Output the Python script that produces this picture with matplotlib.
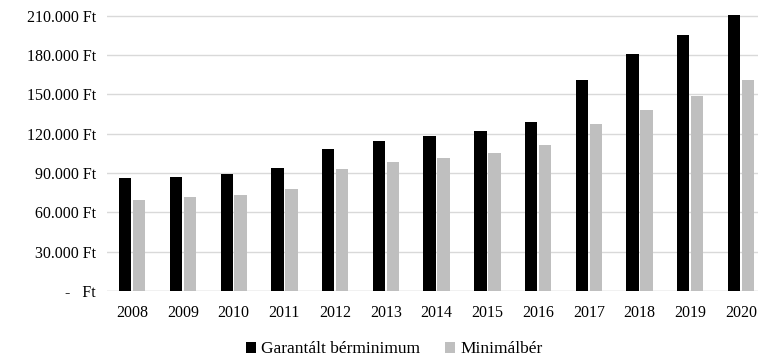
import matplotlib.pyplot as plt
import numpy as np

years = ['2008', '2009', '2010', '2011', '2012', '2013', '2014',
         '2015', '2016', '2017', '2018', '2019', '2020']
garantalt = [86000, 87000, 89500, 94000, 108000, 114000, 118000,
             122000, 129000, 161000, 180500, 195000, 210600]
minimalber = [69000, 71500, 73500, 78000, 93000, 98000, 101500,
              105000, 111000, 127500, 138000, 149000, 161000]
yticks = [0, 30000, 60000, 90000, 120000, 150000, 180000, 210000]
ytick_labels = ['-   Ft', '30.000 Ft', '60.000 Ft', '90.000 Ft', '120.000 Ft',
                '150.000 Ft', '180.000 Ft', '210.000 Ft']

plt.rcParams['font.family'] = ['Liberation Serif', 'DejaVu Serif']

fig = plt.figure(figsize=(7.58, 3.57), dpi=100)
ax = fig.add_axes([0.141, 0.185, 0.87, 0.775])

x = np.arange(len(years))
w = 0.245
ax.bar(x - w / 2 - 0.015, garantalt, w, color='black', label='Garantált bérminimum', zorder=3)
ax.bar(x + w / 2 + 0.015, minimalber, w, color='#bfbfbf', label='Minimálbér', zorder=3)

ax.set_ylim(0, 211000)
ax.set_xlim(-0.5, len(years) - 0.5)
ax.set_yticks(yticks)
ax.set_yticklabels(ytick_labels, fontsize=11.5)
ax.set_xticks(x)
ax.set_xticklabels(years, fontsize=11.5)
ax.tick_params(length=0, pad=8)
ax.tick_params(axis='x', pad=10)
ax.grid(axis='y', color='#d9d9d9', linewidth=1, zorder=0)
for s in ax.spines.values():
    s.set_visible(False)
ax.axhline(0, color='#d9d9d9', linewidth=1, zorder=1)

fig.legend(loc='lower center', bbox_to_anchor=(0.52, -0.045), ncol=2, frameon=False,
           fontsize=12.5, handlelength=0.6, handleheight=0.6, handletextpad=0.3,
           columnspacing=1.4)

fig.savefig('out.png', dpi=100)
